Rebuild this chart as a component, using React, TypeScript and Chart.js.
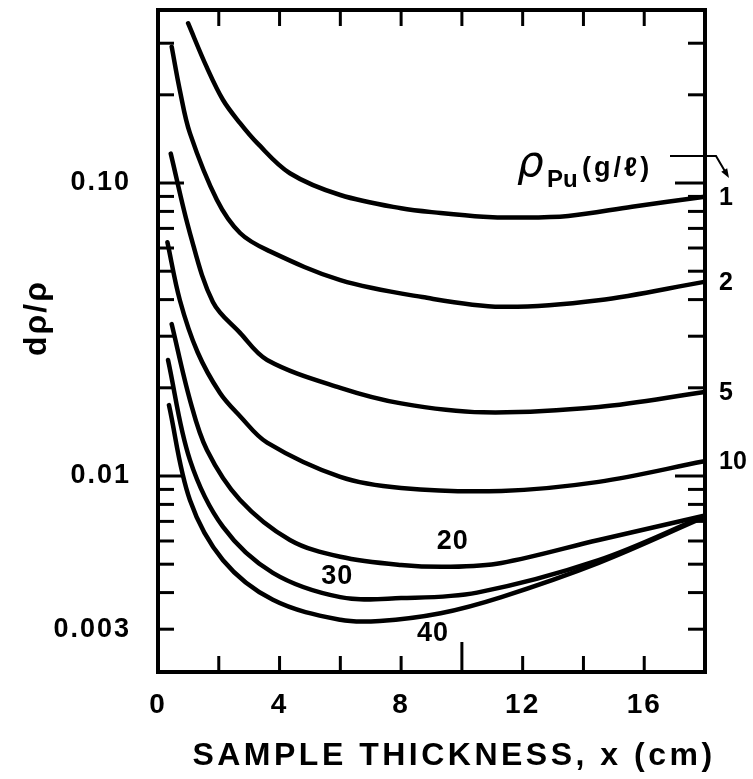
import React, { useEffect, useRef } from 'react';
import { Chart, registerables } from 'chart.js';

Chart.register(...registerables);

const FONT = "'Liberation Sans', Arial, Helvetica, sans-serif";

// ---- Axis ticks ----
const xTickValues = [0, 4, 8, 12, 16];
const xMarkValues = [2, 4, 6, 8, 10, 12, 14, 16];
const yTickValues = [0.003, 0.01, 0.1];
const yTickLabels = ['0.003', '0.01', '0.10'];
const yMarkValues = [
  0.003, 0.004, 0.005, 0.006, 0.007, 0.008, 0.009,
  0.01, 0.02, 0.03, 0.04, 0.05, 0.06, 0.07, 0.08, 0.09,
  0.1, 0.2, 0.3,
];
const yMajorValues = [0.01, 0.1];

const xTitle = 'SAMPLE THICKNESS, x (cm)';
const yTitle = 'dρ/ρ';

// ---- Series: Pu density (g/l) ----
const seriesNames = ['1', '2', '5', '10', '20', '30', '40'];

const rho1X = [0.99, 1.6, 2.14, 2.7, 3.26, 4.34, 6.0, 8.0, 9.3, 10.7, 11.8, 13.5, 15.6, 17.93];
const rho1Y = [0.351, 0.249, 0.192, 0.16, 0.137, 0.108, 0.091, 0.082, 0.079, 0.0767, 0.0762, 0.0772, 0.083, 0.0896];

const rho2X = [0.45, 0.72, 1.05, 1.94, 2.7, 3.6, 6.0, 8.7, 11.3, 14.5, 17.93];
const rho2Y = [0.292, 0.207, 0.148, 0.0875, 0.0675, 0.059, 0.0466, 0.0408, 0.0378, 0.0398, 0.0459];

const rho5X = [0.42, 1.05, 1.81, 2.7, 3.59, 6.0, 8.0, 10.7, 14.5, 17.93];
const rho5Y = [0.126, 0.0675, 0.0392, 0.0308, 0.0249, 0.02, 0.0177, 0.0165, 0.0172, 0.0193];

const rho10X = [0.31, 0.72, 1.3, 2.04, 2.7, 3.59, 6.0, 8.0, 11.3, 14.5, 17.93];
const rho10Y = [0.0628, 0.0398, 0.0265, 0.0192, 0.016, 0.013, 0.00993, 0.0091, 0.00889, 0.00955, 0.0112];

const rho20X = [0.45, 1.05, 1.61, 2.7, 4.34, 6.0, 8.0, 9.6, 11.3, 14.5, 17.93];
const rho20Y = [0.033, 0.0182, 0.01227, 0.00828, 0.00605, 0.0053, 0.00497, 0.0049, 0.00505, 0.00605, 0.0073];

const rho30X = [0.33, 1.05, 2.14, 3.78, 6.0, 8.0, 10.5, 14.5, 17.93];
const rho30Y = [0.0249, 0.01135, 0.0067, 0.00467, 0.00386, 0.00383, 0.004, 0.00516, 0.00725];

const rho40X = [0.36, 1.05, 2.14, 3.78, 6.0, 7.3, 9.3, 11.3, 14.5, 17.93];
const rho40Y = [0.01746, 0.00828, 0.00516, 0.00378, 0.00323, 0.0032, 0.0034, 0.00386, 0.00505, 0.0072];

const seriesX = [rho1X, rho2X, rho5X, rho10X, rho20X, rho30X, rho40X];
const seriesY = [rho1Y, rho2Y, rho5Y, rho10Y, rho20Y, rho30Y, rho40Y];

// curve labels at the right edge (series 1, 2, 5, 10)
const endLabelSeries = ['1', '2', '5', '10'];
// curve labels inside the plot (series 20, 30, 40)
const innerLabelText = ['20', '30', '40'];
const innerLabelX = [9.7, 5.9, 9.05];
const innerLabelY = [0.00596, 0.00452, 0.00291];

const Y_MIN = 0.002143;
const Y_MAX = 0.3895;
const X_MIN = 0;
const X_MAX = 18;

const axesPlugin = {
  id: 'framedAxes',
  beforeDraw(chart: any) {
    (chart.ctx as any).letterSpacing = '2px';
  },
  afterDatasetsDraw(chart: any) {
    const { ctx, chartArea: a, scales } = chart;
    (ctx as any).letterSpacing = '0px';
    const xs = scales.x;
    const ys = scales.y;
    ctx.save();
    ctx.strokeStyle = '#000';
    ctx.lineCap = 'butt';
    ctx.lineWidth = 3;
    const seg = (x1: number, y1: number, x2: number, y2: number) => {
      ctx.beginPath();
      ctx.moveTo(x1, y1);
      ctx.lineTo(x2, y2);
      ctx.stroke();
    };
    for (const v of xMarkValues) {
      const px = xs.getPixelForValue(v);
      seg(px, a.bottom, px, a.bottom - (v === 10 ? 30 : 16));
      seg(px, a.top, px, a.top + 16);
    }
    for (const v of yMarkValues) {
      const py = ys.getPixelForValue(v);
      const major = yMajorValues.includes(v);
      seg(a.left, py, a.left + (major ? 26 : 16), py);
      seg(a.right, py, a.right - (major ? 30 : 17), py);
    }
    ctx.lineWidth = 4;
    ctx.strokeRect(a.left, a.top, a.right - a.left, a.bottom - a.top);
    ctx.restore();
  },
  afterDraw(chart: any) {
    const { ctx, chartArea: a, scales } = chart;
    const xs = scales.x;
    const ys = scales.y;
    ctx.save();
    ctx.fillStyle = '#000';
    ctx.strokeStyle = '#000';

    // x title
    ctx.textAlign = 'center';
    ctx.textBaseline = 'middle';
    ctx.font = `bold 32px ${FONT}`;
    (ctx as any).letterSpacing = '3.5px';
    ctx.fillText(xTitle, a.left + 296, a.bottom + 84);

    // y title
    ctx.save();
    ctx.translate(37, 318);
    ctx.rotate(-Math.PI / 2);
    (ctx as any).letterSpacing = '2px';
    ctx.font = `bold 32px ${FONT}`;
    ctx.fillText(yTitle, 0, 0);
    ctx.restore();

    // end-of-curve labels
    (ctx as any).letterSpacing = '0px';
    ctx.textAlign = 'left';
    ctx.font = `bold 25px ${FONT}`;
    for (const name of endLabelSeries) {
      const i = seriesNames.indexOf(name);
      const ys_ = seriesY[i];
      const py = ys.getPixelForValue(ys_[ys_.length - 1]);
      ctx.fillText(name, a.right + 14, py + 1);
    }

    // inner labels
    ctx.textAlign = 'center';
    ctx.font = `bold 27px ${FONT}`;
    (ctx as any).letterSpacing = '1px';
    innerLabelText.forEach((t, i) => {
      ctx.fillText(t, xs.getPixelForValue(innerLabelX[i]), ys.getPixelForValue(innerLabelY[i]));
    });

    // rho_Pu (g/l) legend label
    ctx.textAlign = 'left';
    ctx.textBaseline = 'alphabetic';
    (ctx as any).letterSpacing = '0px';
    ctx.font = `italic 42px 'DejaVu Sans', sans-serif`;
    ctx.fillText('ρ', a.right - 188, a.top + 166);
    ctx.font = `bold 24px ${FONT}`;
    ctx.fillText('Pu', a.right - 158, a.top + 177);
    (ctx as any).letterSpacing = '3px';
    ctx.font = `bold 27px ${FONT}`;
    ctx.fillText('(g/ℓ)', a.right - 123, a.top + 166);
    (ctx as any).letterSpacing = '0px';

    // arrow
    ctx.lineWidth = 2;
    ctx.beginPath();
    ctx.moveTo(a.right - 35, a.top + 146);
    ctx.lineTo(a.right + 11, a.top + 146);
    ctx.lineTo(a.right + 21, a.top + 163);
    ctx.stroke();
    const tipX = a.right + 24, tipY = a.top + 168;
    const ang = Math.atan2(17, 10);
    ctx.beginPath();
    ctx.moveTo(tipX, tipY);
    ctx.lineTo(tipX - 10 * Math.cos(ang - 0.35), tipY - 10 * Math.sin(ang - 0.35));
    ctx.lineTo(tipX - 10 * Math.cos(ang + 0.35), tipY - 10 * Math.sin(ang + 0.35));
    ctx.closePath();
    ctx.fill();

    ctx.restore();
  },
};

export default function App() {
  const canvasRef = useRef<HTMLCanvasElement | null>(null);

  useEffect(() => {
    const canvas = canvasRef.current;
    if (!canvas) return;
    const datasets = seriesNames.map((name, i) => ({
      label: name,
      data: seriesX[i].map((x, j) => ({ x, y: seriesY[i][j] })),
      borderColor: '#000',
      backgroundColor: '#000',
      borderWidth: 4.5,
      pointRadius: 0,
      fill: false,
      tension: 0.35,
      borderCapStyle: 'round' as const,
      borderJoinStyle: 'round' as const,
    }));
    const chart = new Chart(canvas, {
      type: 'line',
      data: { datasets },
      options: {
        animation: false,
        responsive: true,
        maintainAspectRatio: false,
        layout: { padding: { left: 0, right: 48, top: 10, bottom: 0 } },
        plugins: {
          legend: { display: false },
          tooltip: { enabled: false },
          title: { display: false },
        },
        scales: {
          x: {
            type: 'linear',
            min: X_MIN,
            max: X_MAX,
            bounds: 'data',
            grid: { display: false, drawTicks: false },
            border: { display: false },
            ticks: {
              color: '#000',
              font: { family: FONT, size: 28, weight: 'bold' },
              padding: 16,
              autoSkip: false,
              maxRotation: 0,
              callback: (v: any) => String(v),
            },
            afterBuildTicks: (s: any) => {
              s.ticks = xTickValues.map((v) => ({ value: v }));
            },
            afterFit: (s: any) => {
              s.height = 107;
              s.paddingLeft = 0;
              s.paddingRight = 0;
              s.paddingTop = 0;
              s.paddingBottom = 0;
            },
          },
          y: {
            type: 'logarithmic',
            min: Y_MIN,
            max: Y_MAX,
            bounds: 'data',
            grid: { display: false, drawTicks: false },
            border: { display: false },
            ticks: {
              color: '#000',
              font: { family: FONT, size: 27, weight: 'bold' },
              padding: 27,
              autoSkip: false,
              callback: (v: any) => {
                const k = yTickValues.indexOf(Number(v));
                return k >= 0 ? yTickLabels[k] : '';
              },
            },
            afterBuildTicks: (s: any) => {
              s.ticks = yTickValues.map((v) => ({ value: v }));
            },
            afterFit: (s: any) => {
              s.width = 158;
              s.paddingLeft = 0;
              s.paddingRight = 0;
              s.paddingTop = 0;
              s.paddingBottom = 0;
            },
          },
        },
      },
      plugins: [axesPlugin],
    });
    return () => chart.destroy();
  }, []);

  return (
    <div style={{ position: 'fixed', left: 0, top: 0, width: 753, height: 779, background: '#fff' }}>
      <canvas ref={canvasRef} style={{ display: 'block' }} />
    </div>
  );
}
